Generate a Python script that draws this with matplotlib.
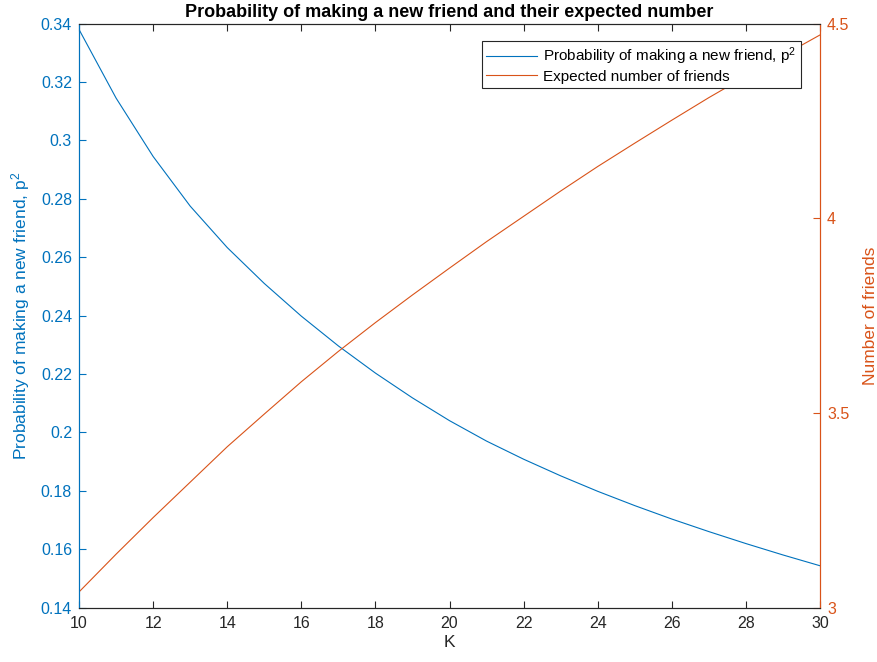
import numpy as np
import matplotlib
matplotlib.use("Agg")
import matplotlib.pyplot as plt

plt.rcParams["font.family"] = ["Liberation Sans", "DejaVu Sans"]
plt.rcParams["mathtext.default"] = "regular"

# data
K = [10, 11, 12, 13, 14, 15, 16, 17, 18, 19, 20,
     21, 22, 23, 24, 25, 26, 27, 28, 29, 30]
p_new_friend = [0.338, 0.3145, 0.2945, 0.2775, 0.2633, 0.2510, 0.2398, 0.2296,
                0.2203, 0.2118, 0.2040, 0.1970, 0.1908, 0.1851, 0.1798, 0.1749,
                0.1703, 0.1660, 0.1619, 0.1580, 0.1543]
n_friends = [3.040, 3.137, 3.231, 3.322, 3.413, 3.497, 3.580, 3.658, 3.732,
             3.803, 3.872, 3.940, 4.005, 4.070, 4.133, 4.193, 4.252, 4.310,
             4.365, 4.418, 4.471]

x_ticks = [10, 12, 14, 16, 18, 20, 22, 24, 26, 28, 30]
left_ticks = [0.14, 0.16, 0.18, 0.2, 0.22, 0.24, 0.26, 0.28, 0.3, 0.32, 0.34]
left_labels = ["0.14", "0.16", "0.18", "0.2", "0.22", "0.24", "0.26", "0.28", "0.3", "0.32", "0.34"]
right_ticks = [3, 3.5, 4, 4.5]
right_labels = ["3", "3.5", "4", "4.5"]

blue = "#0072BD"
orange = "#D95319"
dark = "#262626"

fig = plt.figure(figsize=(8.78, 6.62), dpi=100)
ax = fig.add_axes([0.090, 0.0823, 0.844, 0.882])
ax2 = ax.twinx()

l1, = ax.plot(K, p_new_friend, color=blue, lw=0.8,
              label="Probability of making a new friend, p$^{2}$")
l2, = ax2.plot(K, n_friends, color=orange, lw=0.8,
               label="Expected number of friends")

ax.set_xlim(10, 30)
ax.set_ylim(0.14, 0.34)
ax2.set_ylim(3, 4.5)

ax.set_xticks(x_ticks)
ax.set_yticks(left_ticks)
ax.set_yticklabels(left_labels)
ax2.set_yticks(right_ticks)
ax2.set_yticklabels(right_labels)

for a in (ax, ax2):
    a.spines["top"].set_color(dark)
    a.spines["bottom"].set_color(dark)
    a.spines["left"].set_color(blue)
    a.spines["right"].set_color(orange)
    for s in a.spines.values():
        s.set_linewidth(0.8)

ax.tick_params(axis="x", direction="in", length=5, width=0.8, color=dark,
               labelcolor=dark, labelsize=11.5, top=True, pad=6)
ax.tick_params(axis="y", direction="in", length=5, width=0.8, color=blue,
               labelcolor=blue, labelsize=11.5, pad=5)
ax2.tick_params(axis="y", direction="in", length=5, width=0.8, color=orange,
                labelcolor=orange, labelsize=11.5, pad=5)

ax.set_xlabel("K", fontsize=12.5, color=dark, labelpad=3)
ax.set_ylabel("Probability of making a new friend, p$^{2}$", fontsize=12.5,
              color=blue, labelpad=6)
ax2.set_ylabel("Number of friends", fontsize=12.5, color=orange, labelpad=10)
ax.set_title("Probability of making a new friend and their expected number",
             fontsize=13, fontweight="bold", color="black", pad=5)

leg = ax2.legend([l1, l2], [l1.get_label(), l2.get_label()],
                 loc="upper right", bbox_to_anchor=(0.974, 0.970),
                 borderaxespad=0, fontsize=11, fancybox=False,
                 framealpha=1, edgecolor=dark, handlelength=3.3,
                 handletextpad=0.4, borderpad=0.3, labelspacing=0.15)
leg.get_frame().set_linewidth(0.8)

fig.savefig("out.png", dpi=100)
